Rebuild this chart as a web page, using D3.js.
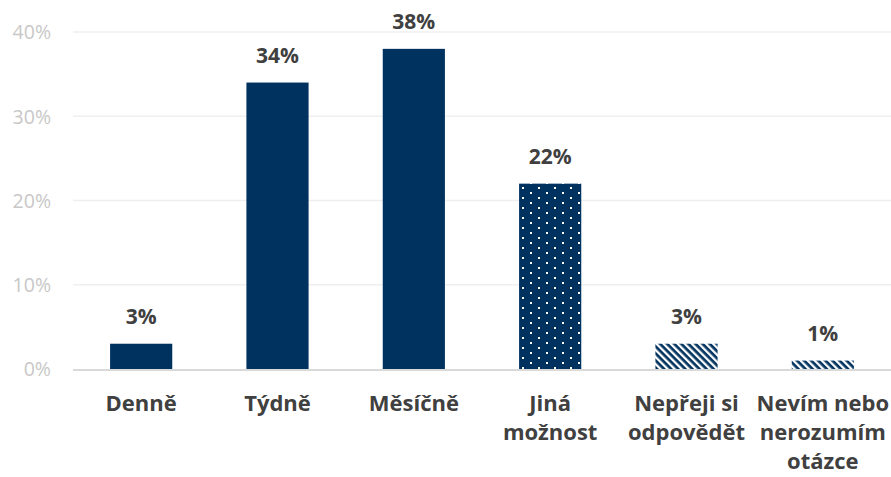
<!DOCTYPE html>
<html><head><meta charset="utf-8">
<script src="https://cdn.jsdelivr.net/npm/d3@7"></script>
<style>body{margin:0;background:#fff;}svg{display:block;}</style>
</head><body>
<svg id="c" width="891" height="477"></svg>
<script>
const categories = [["Denně"],["Týdně"],["Měsíčně"],["Jiná","možnost"],["Nepřeji si","odpovědět"],["Nevím nebo","nerozumím","otázce"]];
const values = [3, 34, 38, 22, 3, 1];
const fills = ["solid","solid","solid","dots","hatch","hatch"];
const yTicks = [0, 10, 20, 30, 40];

const svg = d3.select("#c");
const W = 891;
const margin = {left: 73};
const navy = "#00325f";
const font = "'Open Sans', sans-serif";

const defs = svg.append("defs");
const pd = defs.append("pattern").attr("id","dots").attr("patternUnits","userSpaceOnUse")
  .attr("width",16).attr("height",10);
pd.append("rect").attr("width",16).attr("height",10).attr("fill",navy);
pd.append("rect").attr("x",2).attr("y",2).attr("width",2).attr("height",2).attr("fill","#fff");
pd.append("rect").attr("x",10).attr("y",7).attr("width",2).attr("height",2).attr("fill","#fff");
const ph = defs.append("pattern").attr("id","hatch").attr("patternUnits","userSpaceOnUse")
  .attr("width",5).attr("height",5).attr("patternTransform","rotate(45)");
ph.append("rect").attr("width",5).attr("height",5).attr("fill","#fff");
ph.append("rect").attr("width",5).attr("height",2.7).attr("fill",navy);

const x = d3.scaleBand().domain(categories.map((d,i)=>i)).range([margin.left, W]).paddingInner(0.544).paddingOuter(0.272);
const y = d3.scaleLinear().domain([0, 40]).range([369, 32]);

// gridlines
svg.append("g").selectAll("line").data(yTicks.filter(t=>t>0)).join("line")
  .attr("x1", margin.left).attr("x2", W).attr("y1", d=>y(d)).attr("y2", d=>y(d))
  .attr("stroke","#efefef").attr("stroke-width",1.3);

// y axis labels
const yAxis = d3.axisLeft(y).tickValues(yTicks).tickFormat(d=>d+"%").tickSize(0).tickPadding(0);
const ga = svg.append("g").attr("transform",`translate(51,0)`).call(yAxis);
ga.select(".domain").remove();
ga.selectAll("text").attr("font-family",font).attr("font-size",19.5).attr("fill","#c8c8c8").attr("dy","0.35em");

// bars
svg.append("g").selectAll("rect").data(values).join("rect")
  .attr("x",(d,i)=>x(i)).attr("width",x.bandwidth())
  .attr("y",d=>y(d)).attr("height",d=>y(0)-y(d))
  .attr("fill",(d,i)=>fills[i]==="solid"?navy:`url(#${fills[i]})`);

// baseline
svg.append("line").attr("x1",margin.left).attr("x2",W).attr("y1",y(0)+1).attr("y2",y(0)+1)
  .attr("stroke","#d9d9d9").attr("stroke-width",2);

// value labels
svg.append("g").selectAll("text").data(values).join("text")
  .attr("x",(d,i)=>x(i)+x.bandwidth()/2).attr("y",d=>y(d)-20)
  .attr("text-anchor","middle").attr("font-family",font).attr("font-weight","bold")
  .attr("font-size",21).attr("fill","#404040").text(d=>d+"%");

// category labels
const cl = svg.append("g").selectAll("text").data(categories).join("text")
  .attr("x",(d,i)=>x(i)+x.bandwidth()/2).attr("y",411)
  .attr("text-anchor","middle").attr("font-family",font).attr("font-weight","bold")
  .attr("font-size",22).attr("fill","#404040");
cl.selectAll("tspan").data(d=>d).join("tspan")
  .attr("x",function(){return this.parentNode.getAttribute("x");})
  .attr("dy",(d,i)=>i===0?0:29).text(d=>d);
</script>
</body></html>
